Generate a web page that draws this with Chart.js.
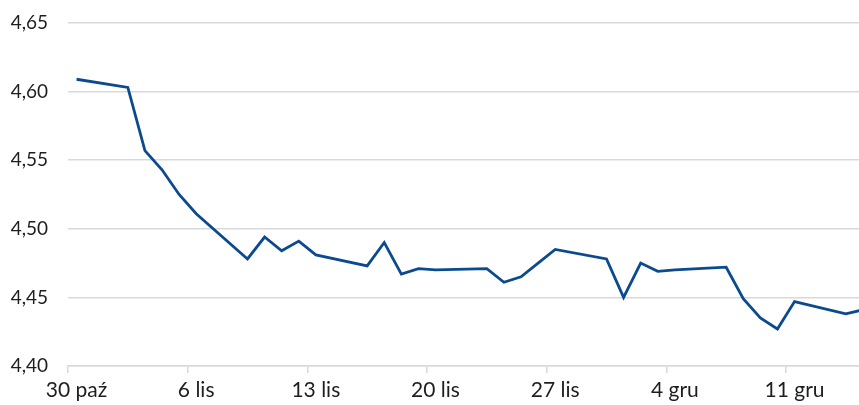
<!DOCTYPE html>
<html lang="pl">

<head>
  <meta charset="UTF-8">
  <title>EUR/PLN</title>
  <script src="https://cdn.jsdelivr.net/npm/chart.js"></script>
  <style>
    body { margin: 0; background: #fff; }
    .wrap { position: relative; width: 859px; height: 405px; overflow: hidden; }
  </style>
</head>

<body>
  <div class="wrap">
    <canvas id="kurs"></canvas>
  </div>

  <script>
    // notowania (dni robocze)
    const dates = [
      '2020-10-30', '2020-11-02', '2020-11-03', '2020-11-04', '2020-11-05', '2020-11-06',
      '2020-11-09', '2020-11-10', '2020-11-11', '2020-11-12', '2020-11-13',
      '2020-11-16', '2020-11-17', '2020-11-18', '2020-11-19', '2020-11-20',
      '2020-11-23', '2020-11-24', '2020-11-25', '2020-11-26', '2020-11-27',
      '2020-11-30', '2020-12-01', '2020-12-02', '2020-12-03', '2020-12-04',
      '2020-12-07', '2020-12-08', '2020-12-09', '2020-12-10', '2020-12-11',
      '2020-12-14', '2020-12-15'
    ];
    const rates = [
      4.609, 4.603, 4.557, 4.543, 4.525, 4.511,
      4.478, 4.494, 4.484, 4.491, 4.481,
      4.473, 4.490, 4.467, 4.471, 4.470,
      4.471, 4.461, 4.465, 4.475, 4.485,
      4.478, 4.450, 4.475, 4.469, 4.470,
      4.472, 4.449, 4.435, 4.427, 4.447,
      4.438, 4.441
    ];
    const tickLabels = ['30 paź', '6 lis', '13 lis', '20 lis', '27 lis', '4 gru', '11 gru'];

    const DAY = 86400000;
    const start = Date.parse(dates[0]);
    const dayOf = d => Math.round((Date.parse(d) - start) / DAY);

    const points = dates.map((d, i) => ({ x: dayOf(d), y: rates[i] }));

    const gridColor = '#d9d9d9';
    const textColor = '#1e1e1e';

    new Chart(document.getElementById('kurs'), {
      type: 'line',
      data: {
        datasets: [{
          data: points,
          borderColor: '#0b4a8f',
          borderWidth: 2.8,
          pointRadius: 0,
          tension: 0,
          fill: false
        }]
      },
      options: {
        responsive: true,
        maintainAspectRatio: false,
        animation: false,
        layout: { padding: { top: 23, right: 0, left: 0, bottom: 0 } },
        plugins: { legend: { display: false }, tooltip: { enabled: false } },
        scales: {
          x: {
            type: 'linear',
            min: -0.5,
            max: 45.77,
            afterBuildTicks(scale) {
              // kreski co 7 dni, na granicy dnia
              scale.ticks = tickLabels.map((t, i) => ({ value: i * 7 - 0.5 }));
            },
            afterFit(scale) { scale.height = 39; },
            ticks: {
              callback: (v, i) => tickLabels[i],
              color: textColor,
              font: { family: 'Lato', size: 21 },
              padding: 5,
              labelOffset: 8.5,
              maxRotation: 0,
              autoSkip: false
            },
            grid: { drawOnChartArea: false, color: gridColor, lineWidth: 1.5, tickLength: 7 },
            border: { display: true, color: gridColor, width: 1.5 }
          },
          y: {
            min: 4.40,
            max: 4.65,
            afterFit(scale) { scale.width = 68; },
            ticks: {
              stepSize: 0.05,
              callback: v => v.toFixed(2).replace('.', ','),
              color: textColor,
              font: { family: 'Lato', size: 19 },
              padding: 3
            },
            // niewidoczne kreski robią odstęp między etykietą a wykresem
            grid: { color: gridColor, lineWidth: 1.5, drawTicks: true, tickLength: 17, tickColor: 'transparent' },
            border: { display: false }
          }
        }
      }
    });
  </script>
</body>

</html>
